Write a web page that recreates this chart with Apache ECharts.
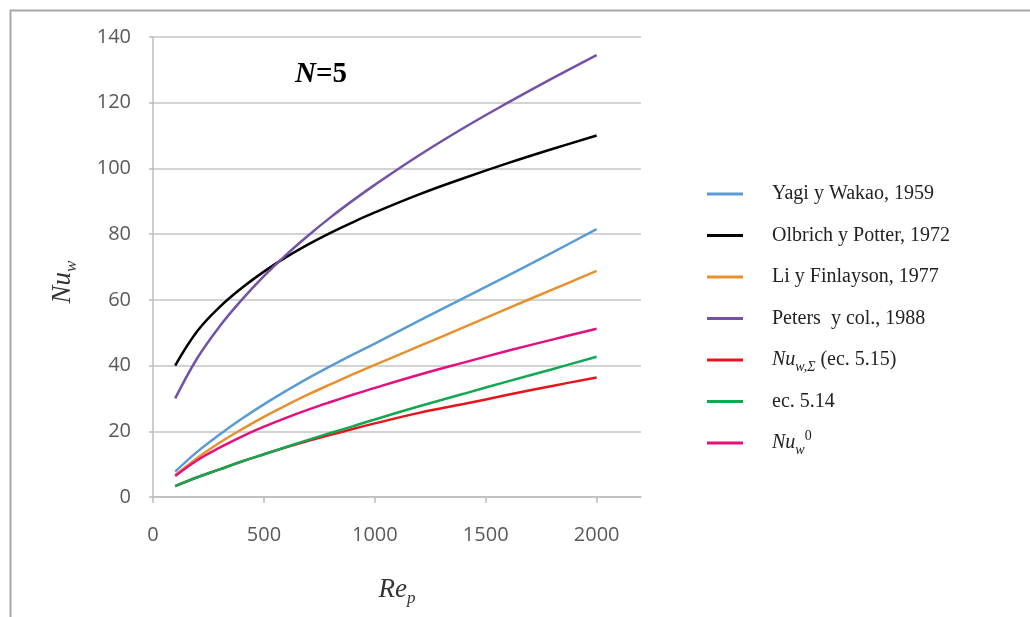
<!DOCTYPE html>
<html>
<head>
<meta charset="utf-8">
<script src="https://cdn.jsdelivr.net/npm/echarts@6/dist/echarts.min.js"></script>
<style>
html,body{margin:0;padding:0;background:#fff;}
#chart{width:1030px;height:617px;}
</style>
</head>
<body>
<div id="chart"></div>
<script>
// ---- data ----
const reynolds = [100,200,300,400,500,600,700,800,900,1000,1200,1400,1600,1800,2000];
const yagiWakao1959     = [7.7,13.8,19.0,23.8,28.2,32.3,36.2,39.8,43.3,46.7,53.7,60.5,67.4,74.4,81.5];
const olbrichPotter1972 = [40,50.5,57.8,63.6,68.6,73.0,76.9,80.4,83.6,86.6,92.1,97.0,101.6,105.9,110];
const liFinlayson1977   = [6.6,11.9,16.5,20.6,24.4,27.9,31.2,34.3,37.3,40.2,45.9,51.6,57.4,63.1,68.8];
const petersCol1988     = [30,42.3,51.9,60.0,67.2,73.7,79.6,85.1,90.2,95.0,104.0,112.3,120,127.4,134.5];
const nuWSigma          = [3.3,6.0,8.4,10.8,13.0,15.1,17.1,18.9,20.7,22.4,25.6,28.3,31.1,33.8,36.4];
const ec514             = [3.3,6.0,8.4,10.8,13.0,15.2,17.4,19.5,21.5,23.6,27.6,31.4,35.2,38.9,42.7];
const nuW0              = [6.4,11.2,15.0,18.4,21.4,24.1,26.6,28.9,31.1,33.2,37.2,40.9,44.5,47.9,51.2];

const seriesNames = ['Yagi y Wakao, 1959','Olbrich y Potter, 1972','Li y Finlayson, 1977','Peters  y col., 1988','Nuw,Σ (ec. 5.15)','ec. 5.14','Nuw0'];
const seriesValues = [yagiWakao1959, olbrichPotter1972, liFinlayson1977, petersCol1988, nuWSigma, ec514, nuW0];
const seriesColors = ['#5b9bd5','#000000','#e8902e','#7451a8','#e8141c','#12a852','#e5107f'];
const xTickValues = [0,500,1000,1500,2000];

const legendRich = {
  '0': '{t|Yagi y Wakao, 1959}',
  '1': '{t|Olbrich y Potter, 1972}',
  '2': '{t|Li y Finlayson, 1977}',
  '3': '{t|Peters  y col., 1988}',
  '4': '{it|Nu}{sub|w,Σ}{t| (ec. 5.15)}',
  '5': '{t|ec. 5.14}',
  '6': '{it|Nu}{sub|w}{sup|0}'
};

const chart = echarts.init(document.getElementById('chart'));
const serif = 'Liberation Serif';
const rowLH = 28;

const option = {
  animation: false,
  backgroundColor: '#ffffff',
  title: {
    text: '{n|N}{r|=5}',
    left: 290, top: 55,
    textStyle: {
      rich: {
        n: {fontFamily: serif, fontSize: 29, fontWeight: 'bold', fontStyle: 'italic', color: '#000'},
        r: {fontFamily: serif, fontSize: 29, fontWeight: 'bold', color: '#000'}
      }
    }
  },
  grid: {left: 153, right: 389, top: 37, bottom: 120, containLabel: false},
  legend: {
    orient: 'vertical',
    left: 702, top: 175,
    icon: 'rect',
    itemWidth: 36, itemHeight: 3,
    itemGap: 13.5,
    data: seriesNames,
    formatter: function (name) { return legendRich[String(seriesNames.indexOf(name))]; },
    textStyle: {
      padding: [0,0,0,24],
      lineHeight: rowLH,
      rich: {
        t:   {fontFamily: serif, fontSize: 20, color: '#222', lineHeight: rowLH},
        it:  {fontFamily: serif, fontSize: 20, fontStyle: 'italic', color: '#222', lineHeight: rowLH},
        sub: {fontFamily: serif, fontSize: 14, fontStyle: 'italic', color: '#222', lineHeight: rowLH, verticalAlign: 'bottom'},
        sup: {fontFamily: serif, fontSize: 14, color: '#222', lineHeight: rowLH, verticalAlign: 'top'}
      }
    }
  },
  xAxis: {
    type: 'value', min: 0, max: 2200, interval: 500,
    name: '{it|Re}{sub|p}',
    nameLocation: 'middle', nameGap: 76,
    nameTextStyle: {
      rich: {
        it: {fontFamily: serif, fontSize: 27, fontStyle: 'italic', color: '#333'},
        sub: {fontFamily: serif, fontSize: 17, fontStyle: 'italic', color: '#333', verticalAlign: 'bottom', lineHeight: 34}
      }
    },
    axisLine: {show: true, onZero: false, lineStyle: {color: '#bdbdbd', width: 1.5}},
    axisTick: {show: true, inside: false, length: 6, customValues: xTickValues, lineStyle: {color: '#bdbdbd', width: 1.5}},
    axisLabel: {customValues: xTickValues, formatter: function (v) { return String(v); }, margin: 28, fontFamily: 'Open Sans', fontSize: 20, color: '#595959'},
    splitLine: {show: false}
  },
  yAxis: {
    type: 'value', min: 0, max: 140, interval: 20,
    name: '{it|Nu}{sub|w}',
    nameLocation: 'middle', nameRotate: 90, nameGap: 73,
    nameTextStyle: {
      padding: [0,30,0,0],
      rich: {
        it: {fontFamily: serif, fontSize: 27, fontStyle: 'italic', color: '#333'},
        sub: {fontFamily: serif, fontSize: 17, fontStyle: 'italic', color: '#333', verticalAlign: 'bottom', lineHeight: 34}
      }
    },
    axisLine: {show: true, lineStyle: {color: '#bdbdbd', width: 1.5}},
    axisTick: {show: true, length: 4, lineStyle: {color: '#bdbdbd', width: 1.5}},
    axisLabel: {margin: 22, fontFamily: 'Open Sans', fontSize: 20, color: '#595959'},
    splitLine: {show: true, lineStyle: {color: '#c4c4c4', width: 1.5}}
  },
  graphic: [{
    type: 'rect', silent: true, z: -1,
    shape: {x: 10.5, y: 10.5, width: 1040, height: 640},
    style: {fill: 'none', stroke: '#a8a8a8', lineWidth: 2}
  }],
  series: seriesNames.map((n, k) => ({
    name: n,
    type: 'line',
    smooth: 0.4,
    symbol: 'none',
    color: seriesColors[k],
    lineStyle: {width: 2.5, color: seriesColors[k]},
    data: reynolds.map((r, i) => [r, seriesValues[k][i]])
  }))
};
chart.setOption(option);
</script>
</body>
</html>
